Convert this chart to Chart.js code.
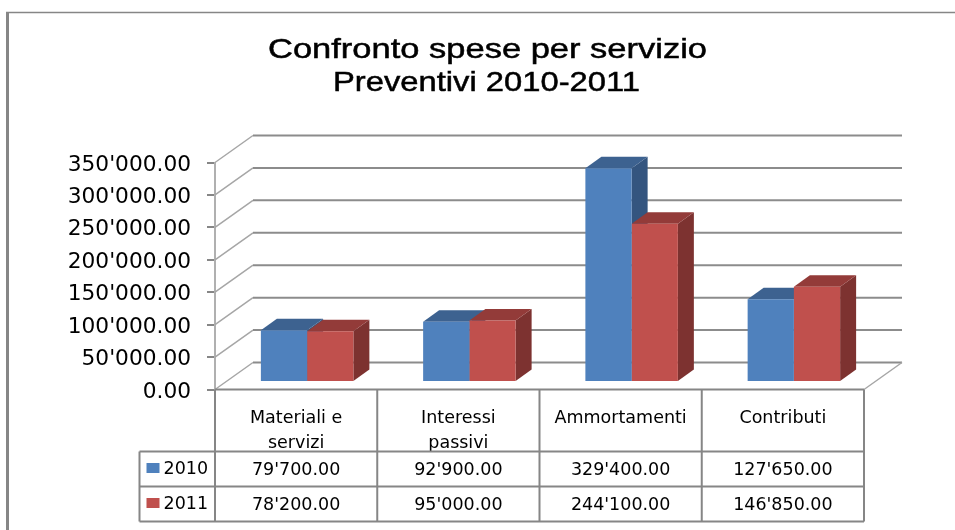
<!DOCTYPE html>
<html>
<head>
<meta charset="utf-8">
<style>
  html, body { margin: 0; padding: 0; background: #fff; }
  canvas { display: block; }
</style>
<script src="https://cdn.jsdelivr.net/npm/chart.js@4"></script>
</head>
<body>
<canvas id="chart" width="955" height="530"></canvas>
<script>
const categories = [["Materiali e", "servizi"], ["Interessi", "passivi"], ["Ammortamenti"], ["Contributi"]];
const series2010 = [79700, 92900, 329400, 127650];
const series2011 = [78200, 95000, 244100, 146850];
const seriesNames = ["2010", "2011"];
const titleLines = ["Confronto spese per servizio", "Preventivi 2010-2011"];

const colors = ["#4f81bd", "#c0504d"];
const sideColors = ["#34557f", "#7d3230"];
const topColors = ["#3d6290", "#933b39"];
const lineColor = "#868686";

// profondita' del pavimento e delle barre
const floorDx = 38, floorDy = 27;
const barShiftX = 11, barShiftY = 7.5;
const barDx = 16, barDy = 11.5;

// righe della tabella dati
const rowBottoms = [451.5, 486.5, 521.5];
const tableLeft = 139.5;

function fmt(v) {
    return v.toFixed(2).replace(/\B(?=(\d{3})+\.)/g, "'");
}

function poly(ctx, pts, color) {
    ctx.fillStyle = color;
    ctx.beginPath();
    pts.forEach((p, i) => (i ? ctx.lineTo(p[0], p[1]) : ctx.moveTo(p[0], p[1])));
    ctx.closePath();
    ctx.fill();
}

const walls3d = {
    id: "walls3d",
    beforeDatasetsDraw(chart) {
        const { ctx, chartArea: a, scales } = chart;
        ctx.save();
        // griglia di fondo e diagonali della parete
        scales.y.ticks.forEach((t) => {
            const y = scales.y.getPixelForValue(t.value);
            ctx.strokeStyle = "#a6a6a6";
            ctx.lineWidth = 1.5;
            ctx.beginPath();
            ctx.moveTo(a.left, y);
            ctx.lineTo(a.left + floorDx, y - floorDy);
            ctx.stroke();
            ctx.strokeStyle = "#8c8c8c";
            ctx.lineWidth = 2;
            ctx.beginPath();
            ctx.moveTo(a.left + floorDx, y - floorDy);
            ctx.lineTo(a.right + floorDx, y - floorDy);
            ctx.stroke();
        });
        // bordo destro del pavimento
        ctx.strokeStyle = "#a6a6a6";
        ctx.lineWidth = 1.5;
        ctx.beginPath();
        ctx.moveTo(a.right, a.bottom);
        ctx.lineTo(a.right + floorDx, a.bottom - floorDy);
        ctx.stroke();

        // facce laterali e superiori delle barre
        ctx.translate(barShiftX, -barShiftY);
        [0, 1].forEach((d) => {
            chart.getDatasetMeta(d).data.forEach((bar) => {
                const l = bar.x - bar.width / 2, r = bar.x + bar.width / 2;
                poly(ctx, [[r, bar.y], [r + barDx, bar.y - barDy], [r + barDx, bar.base - barDy], [r, bar.base]], sideColors[d]);
                poly(ctx, [[l, bar.y], [l + barDx, bar.y - barDy], [r + barDx, bar.y - barDy], [r, bar.y]], topColors[d]);
            });
        });
        ctx.restore();
        // le facce frontali di Chart.js vengono spostate sullo stesso piano
        ctx.save();
        ctx.translate(barShiftX, -barShiftY);
    },
    afterDatasetsDraw(chart) {
        chart.ctx.restore();
    },
};

function drawTitle(ctx) {
    ctx.save();
    ctx.fillStyle = "#000";
    ctx.strokeStyle = "#000";
    ctx.lineWidth = 0.5;
    ctx.font = "28px 'Liberation Sans'";
    ctx.textAlign = "center";
    ctx.textBaseline = "alphabetic";
    // il titolo originale e' allargato in orizzontale
    [[487.5, 58, 439], [486.5, 91, 307]].forEach((pos, i) => {
        const sx = pos[2] / ctx.measureText(titleLines[i]).width;
        ctx.save();
        ctx.translate(pos[0], pos[1]);
        ctx.scale(sx, 1);
        ctx.fillText(titleLines[i], 0, 0);
        ctx.strokeText(titleLines[i], 0, 0);
        ctx.restore();
    });
    ctx.restore();
}

const dataTable = {
    id: "dataTable",
    afterDraw(chart) {
        const { ctx, chartArea: a, scales } = chart;
        const colW = scales.x.width / categories.length;
        ctx.save();

        // cornice esterna
        ctx.strokeStyle = lineColor;
        ctx.lineWidth = 3;
        ctx.beginPath();
        ctx.moveTo(7.5, 530);
        ctx.lineTo(7.5, 12);
        ctx.stroke();
        ctx.lineWidth = 1.5;
        ctx.beginPath();
        ctx.moveTo(6, 12.5);
        ctx.lineTo(955, 12.5);
        ctx.stroke();

        drawTitle(ctx);

        // linee della tabella
        ctx.strokeStyle = lineColor;
        ctx.lineWidth = 2;
        ctx.beginPath();
        ctx.moveTo(a.left, a.bottom);
        ctx.lineTo(a.right, a.bottom);
        for (let i = 0; i <= categories.length; i++) {
            const x = a.left + i * colW;
            ctx.moveTo(x, a.bottom);
            ctx.lineTo(x, rowBottoms[2]);
        }
        rowBottoms.forEach((y) => {
            ctx.moveTo(tableLeft, y);
            ctx.lineTo(a.right, y);
        });
        ctx.moveTo(tableLeft, rowBottoms[0]);
        ctx.lineTo(tableLeft, rowBottoms[2]);
        ctx.stroke();

        // legenda e valori
        ctx.font = "17.5px 'DejaVu Sans'";
        ctx.textBaseline = "middle";
        [series2010, series2011].forEach((vals, r) => {
            const yc = (rowBottoms[r] + rowBottoms[r + 1]) / 2;
            ctx.fillStyle = colors[r];
            ctx.fillRect(tableLeft + 7, yc - 6, 13, 10);
            ctx.fillStyle = "#000";
            ctx.textAlign = "left";
            ctx.fillText(seriesNames[r], tableLeft + 24, yc + 0.5);
            ctx.textAlign = "center";
            vals.forEach((v, i) => {
                ctx.fillText(fmt(v), a.left + (i + 0.5) * colW, yc + 1);
            });
        });
        ctx.restore();
    },
};

new Chart(document.getElementById("chart"), {
    type: "bar",
    data: {
        labels: categories,
        datasets: [
            { label: seriesNames[0], data: series2010, backgroundColor: colors[0] },
            { label: seriesNames[1], data: series2011, backgroundColor: colors[1] },
        ],
    },
    options: {
        responsive: false,
        animation: false,
        layout: { padding: { left: 40, right: 91, top: 162.5, bottom: 0 } },
        categoryPercentage: 0.57,
        barPercentage: 1,
        scales: {
            x: {
                grid: { display: false },
                border: { display: false },
                ticks: {
                    autoSkip: false,
                    maxRotation: 0,
                    minRotation: 0,
                    padding: 9,
                    color: "#000",
                    font: { family: "'DejaVu Sans'", size: 17.5, lineHeight: 1.4 },
                },
                afterFit(scale) { scale.height = 140.5; },
            },
            y: {
                min: 0,
                max: 350000,
                ticks: {
                    stepSize: 50000,
                    padding: 16,
                    labelOffset: 2.5,
                    color: "#000",
                    font: { family: "'DejaVu Sans'", size: 21.7 },
                    callback: (v) => fmt(v),
                },
                grid: { drawOnChartArea: false, tickLength: 8, color: lineColor, lineWidth: 2 },
                border: { color: "#b0b0b0", width: 2 },
                afterFit(scale) { scale.width = 175; },
            },
        },
        plugins: {
            legend: { display: false },
            tooltip: { enabled: false },
            title: { display: false },
        },
    },
    plugins: [walls3d, dataTable],
});
</script>
</body>
</html>
